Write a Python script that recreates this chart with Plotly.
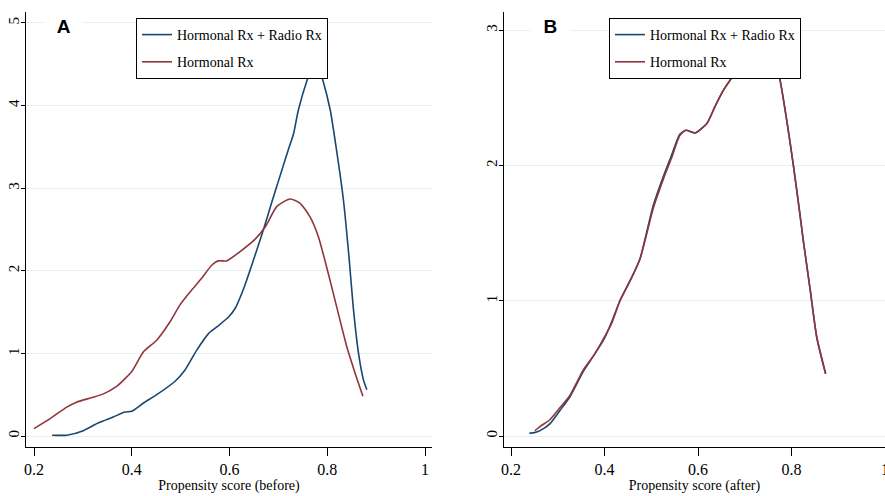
import plotly.graph_objects as go

# ---------------- data ----------------
a_combo_x = [0.237, 0.267, 0.301, 0.332, 0.362, 0.386, 0.400, 0.424, 0.451, 0.488, 0.509, 0.533,
             0.557, 0.574, 0.598, 0.612, 0.628, 0.649, 0.669, 0.686, 0.703, 0.720, 0.731, 0.741,
             0.761, 0.776, 0.789, 0.806, 0.819, 0.833, 0.845, 0.853, 0.864, 0.874, 0.881]
a_combo_y = [0.01, 0.01, 0.065, 0.16, 0.23, 0.29, 0.30, 0.40, 0.50, 0.66, 0.80, 1.04,
             1.24, 1.32, 1.44, 1.55, 1.77, 2.13, 2.49, 2.82, 3.14, 3.46, 3.66, 3.95,
             4.35, 4.58, 4.35, 3.95, 3.46, 2.86, 2.13, 1.57, 1.00, 0.68, 0.56]

a_horm_x = [0.200, 0.233, 0.267, 0.287, 0.315, 0.342, 0.369, 0.400, 0.424, 0.451, 0.478, 0.499,
            0.523, 0.543, 0.564, 0.577, 0.594, 0.621, 0.652, 0.673, 0.697, 0.724, 0.744, 0.765,
            0.782, 0.802, 0.819, 0.840, 0.857, 0.873]
a_horm_y = [0.09, 0.21, 0.35, 0.41, 0.46, 0.51, 0.60, 0.78, 1.02, 1.16, 1.38, 1.59,
            1.77, 1.91, 2.07, 2.12, 2.12, 2.23, 2.38, 2.53, 2.78, 2.87, 2.82, 2.65,
            2.41, 1.97, 1.57, 1.08, 0.76, 0.48]

b_combo_x = [0.239, 0.250, 0.262, 0.283, 0.305, 0.326, 0.355, 0.376, 0.398, 0.415, 0.433, 0.458,
             0.476, 0.487, 0.504, 0.526, 0.544, 0.561, 0.574, 0.594, 0.619, 0.637, 0.655, 0.674,
             0.700, 0.730, 0.760, 0.775, 0.790, 0.804, 0.818, 0.825, 0.840, 0.854, 0.873]
b_combo_y = [0.02, 0.025, 0.04, 0.09, 0.19, 0.29, 0.48, 0.59, 0.71, 0.84, 1.00, 1.17,
             1.31, 1.46, 1.70, 1.92, 2.08, 2.23, 2.26, 2.24, 2.31, 2.44, 2.56, 2.66,
             2.88, 3.00, 2.85, 2.64, 2.33, 2.00, 1.64, 1.45, 1.08, 0.73, 0.46]

b_horm_x = [0.251, 0.262, 0.283, 0.305, 0.326, 0.355, 0.376, 0.398, 0.415, 0.433, 0.458,
            0.476, 0.487, 0.504, 0.526, 0.544, 0.561, 0.574, 0.594, 0.619, 0.637, 0.655, 0.674,
            0.700, 0.730, 0.760, 0.775, 0.790, 0.804, 0.818, 0.825, 0.840, 0.854, 0.873]
b_horm_y = [0.04, 0.07, 0.12, 0.21, 0.30, 0.49, 0.59, 0.72, 0.83, 1.00, 1.17,
            1.31, 1.45, 1.68, 1.90, 2.06, 2.22, 2.26, 2.24, 2.31, 2.44, 2.56, 2.66,
            2.88, 3.00, 2.85, 2.64, 2.33, 2.00, 1.64, 1.45, 1.08, 0.73, 0.46]

series_names = ["Hormonal Rx + Radio Rx", "Hormonal Rx"]
panel_labels = ["A", "B"]
x_titles = ["Propensity score (before)", "Propensity score (after)"]
x_ticks = [0.2, 0.4, 0.6, 0.8, 1.0]
x_ticktext = ["0.2", "0.4", "0.6", "0.8", "1"]
a_y_ticks = [0, 1, 2, 3, 4, 5]
b_y_ticks = [0, 1, 2, 3]

BLUE = "#1a476f"
RED = "#90353b"
GRID = "#e6eff1"
SERIF = "Liberation Serif"

fig = go.Figure()
line_kw = dict(shape="spline", smoothing=0.6, width=1.6)

fig.add_trace(go.Scatter(x=a_combo_x, y=a_combo_y, mode="lines", name=series_names[0],
                         line=dict(color=BLUE, **line_kw), xaxis="x", yaxis="y",
                         legend="legend", legendgroup="a1"))
fig.add_trace(go.Scatter(x=a_horm_x, y=a_horm_y, mode="lines", name=series_names[1],
                         line=dict(color=RED, **line_kw), xaxis="x", yaxis="y",
                         legend="legend", legendgroup="a2"))
fig.add_trace(go.Scatter(x=b_combo_x, y=b_combo_y, mode="lines", name=series_names[0],
                         line=dict(color=BLUE, **line_kw), xaxis="x2", yaxis="y2",
                         legend="legend2", legendgroup="b1"))
fig.add_trace(go.Scatter(x=b_horm_x, y=b_horm_y, mode="lines", name=series_names[1],
                         line=dict(color=RED, **line_kw), xaxis="x2", yaxis="y2",
                         legend="legend2", legendgroup="b2"))

W, H = 885, 496
T, B = 12, 49
PH = H - T - B


def px_x(p):
    return p / W


def px_y(p):
    return (H - B - p) / PH


xcommon = dict(showline=True, linecolor="black", linewidth=1.2, ticks="outside", ticklen=8,
               tickcolor="black", tickwidth=1.2, showgrid=False, zeroline=False,
               tickvals=x_ticks, ticktext=x_ticktext, ticklabeloverflow="allow",
               tickfont=dict(family=SERIF, size=16, color="black"), automargin=False)
ycommon = dict(showline=True, linecolor="black", linewidth=1.2, ticks="outside", ticklen=4,
               tickcolor="black", tickwidth=1.2, showgrid=True, gridcolor=GRID, gridwidth=1.2,
               zeroline=False, tickangle=-90, ticklabelstandoff=-4,
               tickfont=dict(family=SERIF, size=15, color="black"), automargin=False)

legend_common = dict(bgcolor="white", bordercolor="black", borderwidth=1,
                     font=dict(family=SERIF, size=14, color="black"),
                     xanchor="left", yanchor="top", tracegroupgap=6,
                     itemclick=False, itemdoubleclick=False)

fig.update_layout(
    width=W, height=H,
    margin=dict(l=0, r=0, t=T, b=B),
    paper_bgcolor="white", plot_bgcolor="white",
    font=dict(family=SERIF, color="black"),
    xaxis=dict(domain=[px_x(26), px_x(432)], range=[0.1836, 1.0143], anchor="y",
               title=dict(text=x_titles[0], font=dict(family=SERIF, size=14), standoff=2),
               **xcommon),
    yaxis=dict(domain=[0, 1], range=[-0.133, 5.133], anchor="x", tickvals=a_y_ticks,
               **ycommon),
    xaxis2=dict(domain=[px_x(504), 1.0], range=[0.185, 1.0], anchor="y2",
                title=dict(text=x_titles[1], font=dict(family=SERIF, size=14), standoff=2),
                **xcommon),
    yaxis2=dict(domain=[0, 1], range=[-0.0813, 3.134], anchor="x2", tickvals=b_y_ticks,
                **ycommon),
    legend=dict(x=px_x(136), y=px_y(18), **legend_common),
    legend2=dict(x=px_x(609), y=px_y(18), **legend_common),
    annotations=[
        dict(text="<b>  " + panel_labels[0] + "  </b>", x=px_x(63), y=px_y(27),
             xref="paper", yref="paper", showarrow=False,
             font=dict(family="Liberation Sans", size=19, color="black"),
             bgcolor="white", borderpad=2, xanchor="center", yanchor="middle"),
        dict(text="<b>  " + panel_labels[1] + "  </b>", x=px_x(550), y=px_y(27),
             xref="paper", yref="paper", showarrow=False,
             font=dict(family="Liberation Sans", size=19, color="black"),
             bgcolor="white", borderpad=2, xanchor="center", yanchor="middle"),
    ],
)

# remove the default 8px page margin so the figure fills the window exactly
fig.write_html("out.html",
               config={"displayModeBar": False},
               post_script="document.body.style.margin='0px';"
                           "document.body.style.overflow='hidden';")
